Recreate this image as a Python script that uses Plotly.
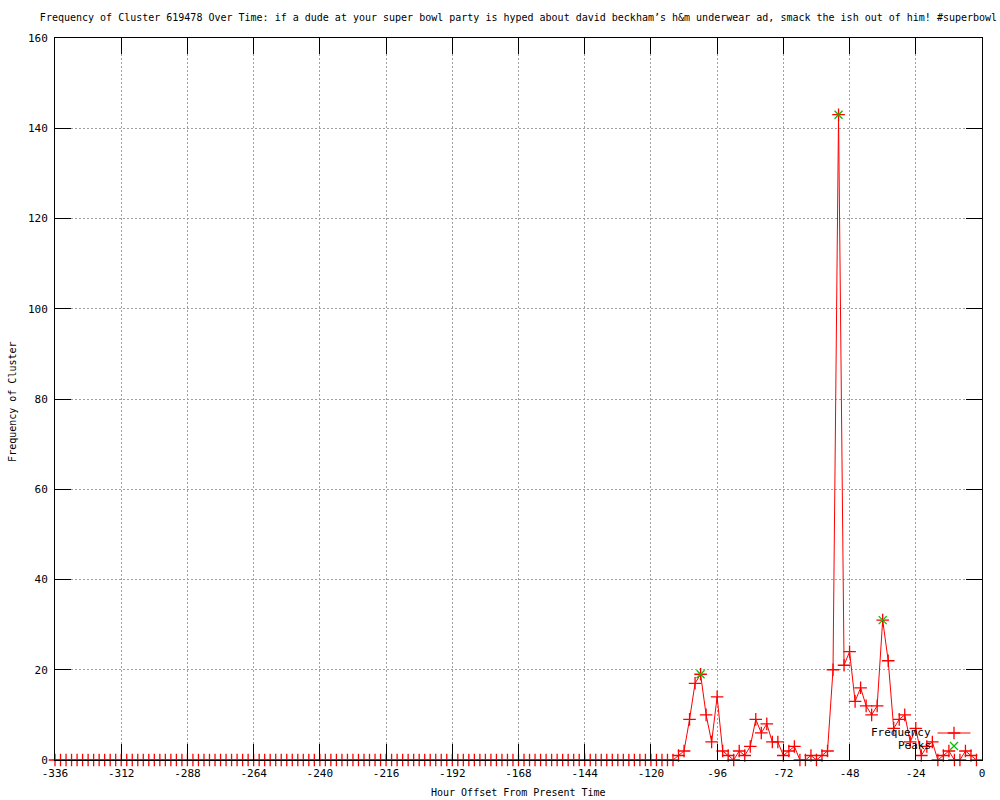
import plotly.graph_objects as go

# hours before present (every 2 h) and cluster frequency
hours = list(range(-336, 0, 2))
freq = [
    0, 0, 0, 0, 0, 0, 0, 0, 0, 0, 0, 0, 0, 0, 0, 0, 0, 0, 0, 0,
    0, 0, 0, 0, 0, 0, 0, 0, 0, 0, 0, 0, 0, 0, 0, 0, 0, 0, 0, 0,
    0, 0, 0, 0, 0, 0, 0, 0, 0, 0, 0, 0, 0, 0, 0, 0, 0, 0, 0, 0,
    0, 0, 0, 0, 0, 0, 0, 0, 0, 0, 0, 0, 0, 0, 0, 0, 0, 0, 0, 0,
    0, 0, 0, 0, 0, 0, 0, 0, 0, 0, 0, 0, 0, 0, 0, 0, 0, 0, 0, 0,
    0, 0, 0, 0, 0, 0, 0, 0, 0, 0, 0, 0, 0,
    1, 2, 9, 17, 19, 10, 4, 14, 2, 1,
    0, 2, 1, 3, 9, 6, 8, 4, 4, 1,
    2, 3, 0, 0, 1, 0, 1, 2, 20, 143,
    21, 24, 13, 16, 12, 10, 12, 31, 22, 7,
    9, 10, 4, 7, 1, 3, 4, 0, 1, 2,
    0, 0, 2, 1, 0,
]

peak_hours = [-102, -52, -36]
peak_freq = [19, 143, 31]

x_ticks = list(range(-336, 1, 24))
y_ticks = list(range(0, 161, 20))

title = ("Frequency of Cluster 619478 Over Time: if a dude at your super bowl party "
         "is hyped about david beckham\u2019s h&m underwear ad, smack the ish out of him! #superbowl")

FONT = "DejaVu Sans Mono"
RED = "#ff0000"
GREEN = "#00c000"

fig = go.Figure()

#Frequency line
fig.add_trace(
    go.Scatter(
        x=hours,
        y=freq,
        mode='lines+markers',
        line=dict(color=RED, width=1),
        marker=dict(symbol='cross-thin', size=9,
                    line=dict(color=RED, width=1.3)),
        cliponaxis=False,
        showlegend=False
    )
)

#Peaks
fig.add_trace(
    go.Scatter(
        x=peak_hours,
        y=peak_freq,
        mode='markers',
        marker=dict(symbol='x-thin', size=8,
                    line=dict(color=GREEN, width=1.3)),
        cliponaxis=False,
        showlegend=False
    )
)

# gnuplot style key (text left, sample right), on an overlay 0..1 axis
fig.add_trace(
    go.Scatter(
        x=[0.952, 0.9876], y=[0.0374, 0.0374],
        xaxis='x2', yaxis='y2',
        mode='lines', line=dict(color=RED, width=1),
        showlegend=False, hoverinfo='skip'
    )
)
fig.add_trace(
    go.Scatter(
        x=[0.9698], y=[0.0374],
        xaxis='x2', yaxis='y2',
        mode='markers',
        marker=dict(symbol='cross-thin', size=9, line=dict(color=RED, width=1.3)),
        showlegend=False, hoverinfo='skip'
    )
)
fig.add_trace(
    go.Scatter(
        x=[0.9698], y=[0.0194],
        xaxis='x2', yaxis='y2',
        mode='markers',
        marker=dict(symbol='x-thin', size=8, line=dict(color=GREEN, width=1.3)),
        showlegend=False, hoverinfo='skip'
    )
)

axis_common = dict(
    showgrid=True,
    gridcolor='#a0a0a0',
    griddash='2px,2px',
    gridwidth=1,
    zeroline=False,
    showline=True,
    linecolor='black',
    linewidth=1,
    mirror='allticks',
    ticks='inside',
    ticklen=16,
    tickcolor='black',
    tickwidth=1,
    layer='above traces',
    tickfont=dict(family=FONT, size=11, color='black'),
)

fig.update_layout(
    width=1000,
    height=800,
    paper_bgcolor='white',
    plot_bgcolor='white',
    margin=dict(l=55, r=18, t=38, b=40, autoexpand=False),
    font=dict(family=FONT, size=10, color='black'),
    title=dict(
        text=title,
        x=0.5, xref='paper', xanchor='center',
        y=1 - 17 / 800, yref='container', yanchor='middle',
        font=dict(family=FONT, size=10, color='black')
    ),
    xaxis=dict(
        range=[-336, 0],
        tickvals=x_ticks,
        ticktext=[str(v) for v in x_ticks],
        ticklabelstandoff=3,
        **axis_common
    ),
    yaxis=dict(
        range=[0, 160],
        tickvals=y_ticks,
        ticklabelstandoff=4,
        **axis_common
    ),
    xaxis2=dict(overlaying='x', range=[0, 1], visible=False),
    yaxis2=dict(overlaying='y', range=[0, 1], visible=False),
    annotations=[
        dict(text="Hour Offset From Present Time", xref='paper', yref='paper',
             x=0.5, y=-0.0457, xanchor='center', yanchor='middle',
             showarrow=False, font=dict(family=FONT, size=10)),
        dict(text="Frequency of Cluster", xref='paper', yref='paper',
             x=-0.0453, y=0.496, xanchor='center', yanchor='middle',
             textangle=-90, showarrow=False, font=dict(family=FONT, size=10)),
        dict(text="Frequency", xref='paper', yref='paper',
             x=0.9474, y=0.0374, xanchor='right', yanchor='middle',
             showarrow=False, font=dict(family=FONT, size=11)),
        dict(text="Peaks", xref='paper', yref='paper',
             x=0.9474, y=0.0194, xanchor='right', yanchor='middle',
             showarrow=False, font=dict(family=FONT, size=11)),
    ],
)

# page body has a default 8px margin; drop it so the figure fills the window
fig.write_html("out.html", config=dict(displayModeBar=False),
               post_script="document.body.style.margin='0px';")
